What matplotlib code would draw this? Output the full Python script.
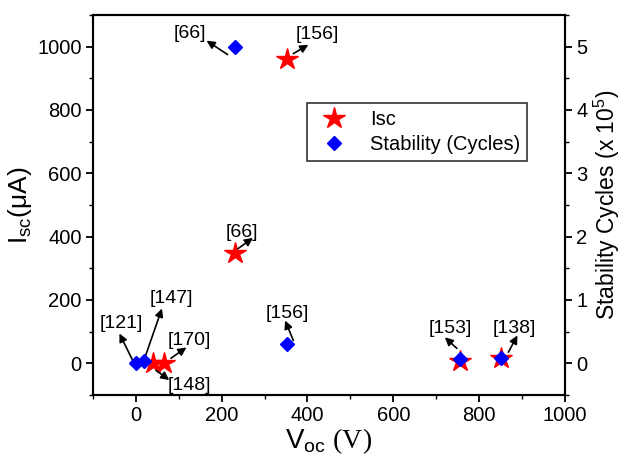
import numpy as np
import matplotlib.pyplot as plt
from matplotlib.lines import Line2D

plt.rcParams['font.family'] = ['Liberation Sans', 'DejaVu Sans']
plt.rcParams['mathtext.fontset'] = 'custom'
plt.rcParams['mathtext.rm'] = 'Liberation Serif'
plt.rcParams['mathtext.sf'] = 'Liberation Sans'
plt.rcParams['mathtext.it'] = 'Liberation Sans:italic'

# Isc data
isc_voc = [40, 65, 232, 352, 755, 850]
isc_ua = [0, 0, 348, 962, 8, 18]

# stability data (x 10^5 cycles)
stab_voc = [0, 20, 232, 352, 755, 850]
stab_cycles = [0.0, 0.03, 5.0, 0.3, 0.07, 0.08]

# reference labels: text, text position, arrow tail, arrow head (left-axis data coords)
refs = [
    ('[66]', (125, 1041), (214, 975), (165, 1019)),
    ('[156]', (424, 1038), (367, 978), (402, 1006)),
    ('[66]', (247, 412), (238, 362), (273, 396)),
    ('[156]', (353, 157), (367, 72), (348, 135)),
    ('[121]', (-33, 126), (-5, 3), (-38, 94)),
    ('[147]', (82, 204), (19, 9), (61, 173)),
    ('[170]', (125, 72), (82, 16), (118, 50)),
    ('[148]', (125, -69), (47, -22), (78, -53)),
    ('[153]', (732, 110), (748, 47), (720, 82)),
    ('[138]', (882, 110), (868, 35), (889, 88)),
]

fig = plt.figure(figsize=(6.23, 4.55), dpi=100)
ax = fig.add_axes([0.149, 0.132, 0.758, 0.835])
ax2 = ax.twinx()

ax.plot(isc_voc, isc_ua, linestyle='none', marker='*', color='red', markersize=16)
ax2.plot(stab_voc, stab_cycles, linestyle='none', marker='D', color='blue', markersize=7.5)

ax.set_xlim(-100, 1000)
ax.set_ylim(-100, 1100)
ax2.set_ylim(-0.5, 5.5)

ax.set_xticks(np.arange(0, 1001, 200))
ax.set_xticks(np.arange(-100, 1001, 100), minor=True)
ax.set_yticks(np.arange(0, 1001, 200))
ax.set_yticks(np.arange(-100, 1101, 100), minor=True)
ax2.set_yticks(np.arange(0, 6, 1))
ax2.set_yticks(np.arange(-0.5, 5.6, 0.5), minor=True)

for a in (ax, ax2):
    a.tick_params(which='major', direction='out', length=5, width=1.3, labelsize=14.5, pad=3)
    a.tick_params(which='minor', direction='out', length=3, width=1.0)
    for s in a.spines.values():
        s.set_linewidth(1.5)

ax.set_xlabel(r'V$_{\mathsf{oc}}$ $\mathrm{(V)}$', fontsize=20, labelpad=1)
ax.set_ylabel(r'I$_{\mathsf{sc}}$(μA)', fontsize=19, labelpad=2)
ax2.set_ylabel(r'Stability Cycles (x 10$^{\mathsf{5}}$)', fontsize=16.5, labelpad=3)

for label, txt_pos, tail, head in refs:
    ax.annotate('', xy=head, xytext=tail,
                arrowprops=dict(arrowstyle='-|>', color='black', lw=1.2,
                                mutation_scale=12, shrinkA=0, shrinkB=0),
                zorder=5)
    ax.text(txt_pos[0], txt_pos[1], label, ha='center', va='center',
            fontsize=14, zorder=6)

handles = [
    Line2D([], [], linestyle='none', marker='*', color='red', markersize=16, label='Isc'),
    Line2D([], [], linestyle='none', marker='D', color='blue', markersize=7.5,
           label='Stability (Cycles)'),
]
leg = ax2.legend(handles=handles, loc='upper left', bbox_to_anchor=(0.453, 0.768),
                 fontsize=14.5, frameon=True, fancybox=False, edgecolor='black',
                 borderpad=0.35, labelspacing=0.3, handletextpad=0.8, borderaxespad=0)
leg.get_frame().set_linewidth(1.2)

fig.savefig('out.png', dpi=100)
